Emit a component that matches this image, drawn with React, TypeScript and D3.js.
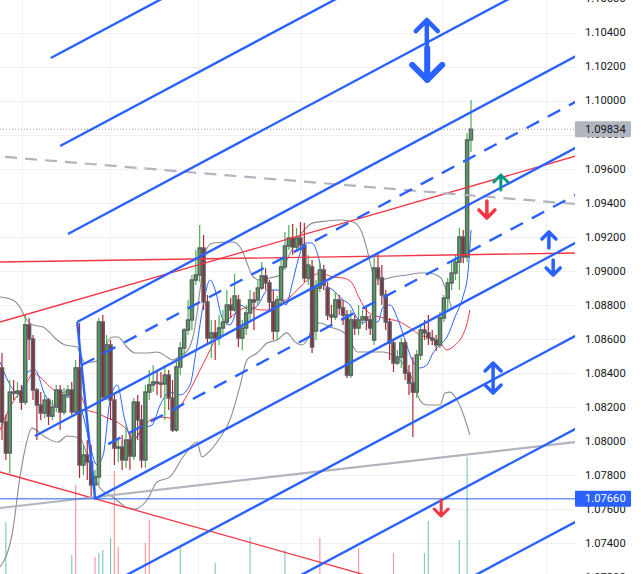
import React, { useEffect } from "react";
import * as d3 from "d3";

// chart size, price axis starts at PLOT_R
const W = 641;
const H = 574;
const PLOT_R = 575;

const BLUE = "#2962ff";
const RED = "#f23645";
const GREEN = "#089981";

// candles (EURUSD-like)
const opens = [
  1.0843, 1.08112, 1.0793, 1.08288, 1.08282, 1.08294, 1.08229, 1.08683, 1.086, 1.083,
  1.08212, 1.08165, 1.08241, 1.08147, 1.082, 1.083, 1.08171, 1.08271, 1.083, 1.08171,
  1.0843, 1.07859, 1.07918, 1.07877, 1.07742, 1.07789, 1.087, 1.08259, 1.08565, 1.08241,
  1.07959, 1.07965, 1.07889, 1.08006, 1.07912, 1.08229, 1.08124, 1.07889, 1.08288, 1.0833,
  1.08347, 1.08341, 1.08336, 1.08388, 1.08253, 1.08065, 1.08436, 1.08547, 1.08653, 1.08712,
  1.08947, 1.08977, 1.09135, 1.08818, 1.08606, 1.08636, 1.08606, 1.08665, 1.087, 1.088,
  1.08771, 1.0883, 1.08606, 1.08665, 1.08753, 1.0883, 1.0883, 1.089, 1.08971, 1.0893,
  1.08818, 1.08647, 1.0883, 1.09024, 1.09147, 1.09194, 1.09141, 1.09194, 1.09153, 1.08959,
  1.09024, 1.08647, 1.089, 1.09006, 1.089, 1.08741, 1.0873, 1.0883, 1.08783, 1.08741,
  1.08388, 1.08712, 1.08665, 1.08712, 1.0873, 1.08712, 1.08594, 1.09018, 1.08959, 1.08859,
  1.087, 1.08577, 1.08459, 1.08494, 1.08577, 1.084, 1.08341, 1.08288, 1.08506, 1.08653,
  1.08636, 1.08606, 1.08594, 1.08565, 1.08724, 1.08841, 1.0893, 1.08988, 1.09053, 1.092,
  1.09083, 1.09771,
];
const highs = [
  1.08518, 1.08153, 1.08359, 1.08359, 1.08347, 1.0833, 1.08741, 1.08724, 1.08624, 1.08312,
  1.08288, 1.08271, 1.08253, 1.08241, 1.0833, 1.0833, 1.08312, 1.0833, 1.08347, 1.08477,
  1.08694, 1.07977, 1.08006, 1.07977, 1.0783, 1.08724, 1.08741, 1.08624, 1.08594, 1.08271,
  1.08006, 1.08036, 1.08094, 1.08053, 1.08253, 1.08271, 1.08212, 1.0833, 1.08418, 1.08447,
  1.08418, 1.08406, 1.08447, 1.08418, 1.08359, 1.08477, 1.08583, 1.08665, 1.0883, 1.08977,
  1.09124, 1.09271, 1.09212, 1.08859, 1.08712, 1.08712, 1.08741, 1.08771, 1.08888, 1.08841,
  1.08983, 1.08859, 1.08712, 1.088, 1.08888, 1.08877, 1.08947, 1.09053, 1.09018, 1.08947,
  1.08888, 1.08853, 1.09077, 1.0923, 1.09271, 1.09277, 1.09253, 1.09288, 1.09283, 1.09094,
  1.09065, 1.08947, 1.09053, 1.09035, 1.08936, 1.088, 1.08877, 1.08859, 1.0883, 1.08771,
  1.08771, 1.08741, 1.088, 1.08771, 1.08783, 1.08741, 1.09094, 1.09112, 1.09035, 1.08888,
  1.08724, 1.08594, 1.08536, 1.08606, 1.08594, 1.08447, 1.08494, 1.08536, 1.08683, 1.08712,
  1.08741, 1.08653, 1.08624, 1.08759, 1.08859, 1.08959, 1.09053, 1.09094, 1.09253, 1.09241,
  1.09812, 1.10006,
];
const lows = [
  1.08006, 1.07889, 1.07812, 1.08241, 1.08253, 1.08183, 1.08212, 1.08477, 1.08241, 1.08006,
  1.08124, 1.08136, 1.08094, 1.08124, 1.08171, 1.08065, 1.08153, 1.08253, 1.08153, 1.08153,
  1.07783, 1.078, 1.07771, 1.07665, 1.07683, 1.07742, 1.08241, 1.08241, 1.08124, 1.07859,
  1.07877, 1.0783, 1.07842, 1.0783, 1.07889, 1.08006, 1.07842, 1.07842, 1.08241, 1.08288,
  1.08271, 1.08253, 1.08124, 1.08183, 1.08053, 1.08053, 1.08388, 1.08506, 1.08624, 1.08653,
  1.08918, 1.08936, 1.08771, 1.08565, 1.08489, 1.08477, 1.08565, 1.08624, 1.08683, 1.08724,
  1.08759, 1.08553, 1.08536, 1.08624, 1.08712, 1.08653, 1.088, 1.08888, 1.08888, 1.08771,
  1.08594, 1.08594, 1.088, 1.09006, 1.09124, 1.09094, 1.09112, 1.09124, 1.08936, 1.08918,
  1.08518, 1.08594, 1.08877, 1.08888, 1.08712, 1.08683, 1.08712, 1.08741, 1.08683, 1.08371,
  1.08371, 1.08624, 1.08624, 1.08683, 1.08653, 1.08624, 1.08565, 1.08918, 1.088, 1.08653,
  1.08477, 1.08406, 1.08447, 1.0843, 1.08359, 1.08271, 1.08024, 1.08253, 1.08477, 1.08594,
  1.08565, 1.08565, 1.0853, 1.08547, 1.087, 1.08771, 1.08888, 1.08947, 1.08888, 1.09047,
  1.09053, 1.097,
];
const closes = [
  1.08112, 1.0793, 1.08288, 1.08282, 1.08294, 1.08229, 1.08683, 1.086, 1.083, 1.08212,
  1.08165, 1.08241, 1.08147, 1.082, 1.083, 1.08171, 1.08271, 1.083, 1.08171, 1.0843,
  1.07859, 1.07918, 1.07877, 1.07742, 1.07789, 1.087, 1.08259, 1.08565, 1.08241, 1.07959,
  1.07965, 1.07889, 1.08006, 1.07912, 1.08229, 1.08124, 1.07889, 1.08288, 1.0833, 1.08347,
  1.08341, 1.08336, 1.08388, 1.08253, 1.08065, 1.08436, 1.08547, 1.08653, 1.08712, 1.08947,
  1.08977, 1.09135, 1.08818, 1.08606, 1.08636, 1.08606, 1.08665, 1.087, 1.088, 1.08771,
  1.08853, 1.08606, 1.08665, 1.08753, 1.0883, 1.08818, 1.089, 1.08971, 1.0893, 1.08818,
  1.08647, 1.0883, 1.09024, 1.09147, 1.09194, 1.09141, 1.09194, 1.09153, 1.08959, 1.09035,
  1.08553, 1.089, 1.09006, 1.08918, 1.08741, 1.0873, 1.0883, 1.08783, 1.08741, 1.08388,
  1.08712, 1.08665, 1.08712, 1.0873, 1.08712, 1.08665, 1.09018, 1.08959, 1.08859, 1.087,
  1.08577, 1.08459, 1.08494, 1.08577, 1.084, 1.08341, 1.08288, 1.08506, 1.08653, 1.08636,
  1.08606, 1.08594, 1.08565, 1.08724, 1.08841, 1.0893, 1.08988, 1.09053, 1.092, 1.09083,
  1.09771, 1.09834,
];

// visible volume bars: [bar, volume, up?]
const volumeBars: [number, number, boolean][] = [
  [1, 62, true], [18, 29, true], [19, 99, false], [24, 27, false], [25, 31, true],
  [26, 34, true], [28, 46, true], [29, 113, false], [30, 37, false], [37, 41, false],
  [38, 64, false], [46, 39, true], [55, 21, true], [64, 47, true], [73, 34, true],
  [82, 46, false], [92, 36, false], [101, 31, false], [109, 31, true], [110, 63, true],
  [118, 44, true], [120, 127, true],
];

// indicators: [bar, price]
const bbUpper: [number, number][] = [
  [-0.5, 1.08847], [2.8, 1.0883], [4.6, 1.08788], [5.9, 1.0873], [8.0, 1.08683], [10.6, 1.08671],
  [12.4, 1.08636], [14.2, 1.08594], [16.3, 1.08565], [19.4, 1.08553], [20.1, 1.08518], [21.4, 1.08459],
  [23.2, 1.08465], [25.3, 1.08477], [26.3, 1.08536], [28.4, 1.08612], [29.9, 1.08612], [32.2, 1.08553],
  [34.3, 1.08518], [37.4, 1.08518], [40.0, 1.08524], [42.6, 1.08494], [43.9, 1.08477], [45.9, 1.085],
  [48.0, 1.08536], [49.5, 1.08636], [50.6, 1.088], [51.6, 1.08977], [52.9, 1.09135], [54.4, 1.09165],
  [59.6, 1.09171], [61.9, 1.09124], [63.2, 1.09047], [64.8, 1.08965], [66.6, 1.08947], [69.1, 1.08959],
  [71.7, 1.08977], [73.5, 1.09065], [76.1, 1.09182], [78.7, 1.09259], [80.2, 1.09283], [83.8, 1.09294],
  [87.2, 1.093], [90.6, 1.09288], [92.9, 1.09224], [94.2, 1.09124], [95.7, 1.08988], [97.5, 1.08947],
  [100.9, 1.08965], [104.5, 1.08977], [107.8, 1.08988], [109.9, 1.08988], [113.0, 1.08965],
  [114.8, 1.08871], [116.1, 1.08771],
];
const bbLower: [number, number][] = [
  [-0.5, 1.07259], [2.8, 1.07477], [4.6, 1.07783], [5.9, 1.07947], [7.7, 1.08076], [11.1, 1.08024],
  [14.4, 1.07994], [16.8, 1.0803], [20.1, 1.08018], [22.2, 1.079], [24.0, 1.07783], [25.3, 1.07724],
  [28.6, 1.07671], [32.5, 1.07606], [34.3, 1.076], [37.4, 1.07653], [40.0, 1.07759], [43.3, 1.07789],
  [46.7, 1.07906], [50.3, 1.07994], [51.6, 1.07906], [53.1, 1.0793], [56.2, 1.08018], [58.8, 1.08124],
  [61.4, 1.08324], [63.2, 1.08477], [65.8, 1.08518], [68.4, 1.08577], [71.0, 1.08594], [73.5, 1.08636],
  [75.6, 1.08583], [77.4, 1.08565], [78.7, 1.08594], [80.2, 1.08671], [82.0, 1.08694], [84.6, 1.08671],
  [88.0, 1.08641], [89.8, 1.08594], [91.6, 1.08524], [94.9, 1.08524], [98.3, 1.08524], [100.9, 1.08506],
  [102.2, 1.08489], [104.5, 1.08418], [106.0, 1.08359], [107.8, 1.08241], [109.6, 1.08212],
  [113.0, 1.08212], [114.3, 1.08283], [115.6, 1.08288], [117.4, 1.08241], [118.9, 1.08165],
  [120.7, 1.08036],
];
const maFast: [number, number][] = [
  [-0.5, 1.08465], [2.1, 1.0833], [4.6, 1.08271], [6.5, 1.08406], [8.5, 1.08418], [11.1, 1.08271],
  [13.7, 1.08212], [16.3, 1.08259], [18.8, 1.08259], [20.9, 1.08153], [22.7, 1.07977], [24.5, 1.07859],
  [26.1, 1.07918], [27.9, 1.08241], [29.7, 1.0833], [31.7, 1.08124], [33.8, 1.08006], [36.4, 1.08077],
  [38.7, 1.08094], [40.8, 1.08212], [43.3, 1.08288], [45.9, 1.08271], [48.5, 1.0833], [50.3, 1.08565],
  [51.9, 1.088], [53.7, 1.08947], [55.0, 1.08888], [56.8, 1.08724], [58.8, 1.08683], [61.4, 1.088],
  [64.0, 1.08771], [66.0, 1.088], [68.6, 1.08888], [71.2, 1.08888], [73.3, 1.088], [74.8, 1.08918],
  [76.4, 1.09065], [78.2, 1.09165], [80.0, 1.09165], [81.5, 1.09094], [83.3, 1.08918], [85.4, 1.08888],
  [88.0, 1.0883], [89.8, 1.088], [91.6, 1.08724], [92.9, 1.08694], [94.9, 1.08712], [97.0, 1.087],
  [98.3, 1.08788], [100.1, 1.088], [102.2, 1.08712], [104.0, 1.08594], [105.8, 1.08477], [107.8, 1.0843],
  [109.6, 1.08447], [111.2, 1.08518], [113.0, 1.08565], [114.8, 1.08612], [116.9, 1.0873],
  [118.9, 1.08847], [120.2, 1.08988], [121.0, 1.09241],
];
const maSlow: [number, number][] = [
  [-0.5, 1.08065], [2.1, 1.082], [4.6, 1.08288], [6.5, 1.08347], [8.0, 1.084], [9.8, 1.08377],
  [12.4, 1.08318], [15.0, 1.08282], [18.3, 1.083], [20.1, 1.08282], [21.9, 1.08183], [24.5, 1.08165],
  [27.1, 1.08136], [29.7, 1.08112], [32.2, 1.08065], [33.8, 1.08006], [35.6, 1.08047], [38.2, 1.08124],
  [40.8, 1.08141], [43.3, 1.08136], [45.9, 1.082], [48.5, 1.083], [51.1, 1.08418], [53.7, 1.08536],
  [56.2, 1.08653], [58.8, 1.08724], [61.4, 1.08771], [64.0, 1.08788], [66.6, 1.08771], [69.1, 1.08771],
  [71.7, 1.08812], [74.3, 1.08847], [76.9, 1.08906], [79.5, 1.08959], [82.0, 1.08988], [85.4, 1.08965],
  [88.0, 1.08959], [90.3, 1.0893], [91.8, 1.08859], [94.4, 1.08759], [98.3, 1.08724], [102.7, 1.087],
  [105.3, 1.08665], [107.8, 1.08624], [110.9, 1.08606], [113.0, 1.08577], [114.8, 1.08536],
  [116.9, 1.08565], [118.9, 1.08624], [120.2, 1.08712], [120.7, 1.08771],
];

// parallel channel drawing: start points, all lines share one slope (price per bar)
const channelSlope = 0.0001215;
const channelEndBar = 148;
const channelLines = [
  { bar: 12.6, price: 1.10253, dashed: false },
  { bar: 15.0, price: 1.09735, dashed: false },
  { bar: 17.0, price: 1.09218, dashed: false },
  { bar: 19.4, price: 1.087, dashed: false },
  { bar: 20.6, price: 1.08447, dashed: true },
  { bar: 8.5, price: 1.0803, dashed: false },
  { bar: 27.4, price: 1.07982, dashed: true },
  { bar: 24.0, price: 1.0766, dashed: false },
  { bar: 24.0, price: 1.07113, dashed: false },
  { bar: 24.0, price: 1.06566, dashed: false },
  { bar: 24.0, price: 1.06019, dashed: false },
];
const handle: [number, number][] = [[19.4, 1.087], [24.0, 1.0766]];

// trend lines: two points each
const trendLines = [
  { pts: [[-0.5, 1.09053], [148, 1.09106]], color: RED, width: 1.3, dash: "" },
  { pts: [[-0.5, 1.087], [148, 1.09676]], color: RED, width: 1.3, dash: "" },
  { pts: [[-0.5, 1.07818], [148, 1.06863]], color: RED, width: 1.3, dash: "" },
  { pts: [[-0.5, 1.07606], [148, 1.07994]], color: "#b2b5be", width: 2.2, dash: "" },
  { pts: [[0.8, 1.09671], [148, 1.09394]], color: "#b2b5be", width: 2.2, dash: "12 8" },
];

const lastPrice = 1.09834;
const levelPrice = 1.0766;

// arrows: bar, tail price, head price
const arrows = [
  { bar: 109.6, from: 1.10335, to: 1.10476, color: BLUE, w: 11, sw: 4.5, both: false },
  { bar: 109.7, from: 1.10312, to: 1.10124, color: BLUE, w: 15, sw: 6, both: false },
  { bar: 128.7, from: 1.09477, to: 1.09565, color: GREEN, w: 7, sw: 3, both: false },
  { bar: 125.1, from: 1.09412, to: 1.09312, color: RED, w: 8, sw: 3.5, both: false },
  { bar: 141.1, from: 1.09135, to: 1.0923, color: BLUE, w: 7, sw: 3.5, both: false },
  { bar: 142.2, from: 1.09065, to: 1.08977, color: BLUE, w: 7, sw: 3.5, both: false },
  { bar: 126.7, from: 1.08282, to: 1.08459, color: BLUE, w: 8, sw: 3.5, both: true },
  { bar: 113.3, from: 1.07653, to: 1.07559, color: RED, w: 7, sw: 3, both: false },
];

const priceTicks = [
  1.072, 1.074, 1.076, 1.078, 1.08, 1.082, 1.084, 1.086, 1.088, 1.09,
  1.092, 1.094, 1.096, 1.098, 1.1, 1.102, 1.104, 1.106,
];
const gridBars = [5.2, 27.9, 50.6, 77.1, 113.5, 140.3];

export default function App() {
  useEffect(() => {
    document.body.style.margin = "0";
  }, []);

  const x = d3.scaleLinear().domain([0, opens.length - 1]).range([2, 471]);
  const y = d3.scaleLinear().domain([1.07218, 1.10594]).range([H, 0]);
  const vol = d3.scaleLinear().domain([0, 130]).range([H + 10, H - 120]);

  const line = d3
    .line<[number, number]>()
    .x((d) => x(d[0]))
    .y((d) => y(d[1]))
    .curve(d3.curveMonotoneX);
  const straight = d3
    .line<number[]>()
    .x((d) => x(d[0]))
    .y((d) => y(d[1]));

  const arrowPath = (a: (typeof arrows)[0]) => {
    const ax = x(a.bar);
    const yt = y(a.from);
    const yh = y(a.to);
    const dir = yh < yt ? 1 : -1;
    let p = `M${ax},${yt}L${ax},${yh}M${ax - a.w},${yh + dir * a.w}L${ax},${yh}L${ax + a.w},${yh + dir * a.w}`;
    if (a.both) {
      p += `M${ax - a.w},${yt - dir * a.w}L${ax},${yt}L${ax + a.w},${yt - dir * a.w}`;
    }
    return p;
  };

  const font = "Roboto, 'Noto Sans', sans-serif";

  return (
    <svg
      width={W}
      height={H}
      style={{ position: "absolute", left: 0, top: 0, display: "block", background: "#fff" }}
    >
      <defs>
        <clipPath id="plot">
          <rect x={0} y={0} width={PLOT_R} height={H} />
        </clipPath>
      </defs>

      {/* grid */}
      <g stroke="#eff1f5" strokeWidth={1}>
        {priceTicks.map((t) => (
          <line key={t} x1={0} x2={PLOT_R} y1={Math.round(y(t)) + 0.5} y2={Math.round(y(t)) + 0.5} />
        ))}
        {gridBars.map((b) => (
          <line key={b} x1={Math.round(x(b)) + 0.5} x2={Math.round(x(b)) + 0.5} y1={0} y2={H} />
        ))}
      </g>

      <g clipPath="url(#plot)">
        {/* volume */}
        {volumeBars.map(([b, v, up]) => (
          <line
            key={"v" + b}
            x1={x(b)}
            x2={x(b)}
            y1={H}
            y2={vol(v)}
            stroke={up ? "rgba(8,153,129,0.5)" : "rgba(242,54,69,0.5)"}
            strokeWidth={1.2}
          />
        ))}

        {/* bollinger bands and moving averages */}
        <path d={line(bbUpper) || ""} fill="none" stroke="#8a8d96" strokeWidth={1.1} />
        <path d={line(bbLower) || ""} fill="none" stroke="#8a8d96" strokeWidth={1.1} />
        <path d={line(maSlow) || ""} fill="none" stroke={RED} strokeWidth={1} />
        <path d={line(maFast) || ""} fill="none" stroke={BLUE} strokeWidth={1} />

        {/* candles: coloured wicks, grey-rimmed bodies */}
        {opens.map((o, i) => {
          const c = closes[i];
          const up = c >= o;
          const cx = x(i);
          const top = y(Math.max(o, c));
          const bot = y(Math.min(o, c));
          return (
            <g key={i}>
              <line
                x1={cx}
                x2={cx}
                y1={y(highs[i])}
                y2={y(lows[i])}
                stroke={up ? "#4caf50" : "#b22833"}
                strokeWidth={1.2}
              />
              <rect
                x={cx - 1.5}
                y={top}
                width={3}
                height={Math.max(1, bot - top)}
                fill={up ? "#4caf50" : "#8e2a30"}
                stroke="#5d6068"
                strokeWidth={1.5}
              />
            </g>
          );
        })}

        {/* drawings */}
        {trendLines.map((t, i) => (
          <path
            key={"t" + i}
            d={straight(t.pts) || ""}
            fill="none"
            stroke={t.color}
            strokeWidth={t.width}
            strokeDasharray={t.dash || undefined}
          />
        ))}
        <line
          x1={0}
          x2={PLOT_R}
          y1={y(levelPrice)}
          y2={y(levelPrice)}
          stroke={BLUE}
          strokeWidth={1}
        />
        <line
          x1={0}
          x2={PLOT_R}
          y1={y(lastPrice)}
          y2={y(lastPrice)}
          stroke="#9598a1"
          strokeWidth={1}
          strokeDasharray="1 2"
        />
        {channelLines.map((l, i) => (
          <path
            key={"c" + i}
            d={
              straight([
                [l.bar, l.price],
                [channelEndBar, l.price + (channelEndBar - l.bar) * channelSlope],
              ]) || ""
            }
            fill="none"
            stroke={BLUE}
            strokeWidth={2.4}
            strokeDasharray={l.dashed ? "14 10" : undefined}
          />
        ))}
        <path d={straight(handle) || ""} fill="none" stroke={BLUE} strokeWidth={2.4} />

        {arrows.map((a, i) => (
          <path
            key={"a" + i}
            d={arrowPath(a)}
            fill="none"
            stroke={a.color}
            strokeWidth={a.sw}
            strokeLinecap="round"
            strokeLinejoin="round"
          />
        ))}
      </g>

      {/* price axis */}
      <g fontFamily={font} fontSize={11.2} fill="#131722">
        {priceTicks.map((t) => (
          <text key={t} x={585} y={y(t)} dominantBaseline="central">
            {t.toFixed(5)}
          </text>
        ))}
      </g>
      <g fontFamily={font} fontSize={11.2}>
        <rect x={575} y={y(lastPrice) - 8} width={56} height={16} rx={1} fill="#b2b5be" />
        <text x={585} y={y(lastPrice)} dominantBaseline="central" fill="#131722">
          {lastPrice.toFixed(5)}
        </text>
        <rect x={575} y={y(levelPrice) - 8} width={56} height={16} rx={1} fill={BLUE} />
        <text x={585} y={y(levelPrice)} dominantBaseline="central" fill="#fff">
          {levelPrice.toFixed(5)}
        </text>
      </g>
    </svg>
  );
}
